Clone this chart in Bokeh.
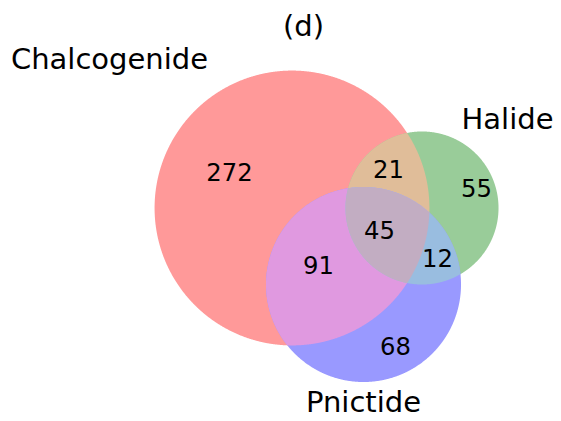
import numpy as np
from bokeh.plotting import figure
from bokeh.models import Range1d
from bokeh.core.properties import value
from bokeh.embed import file_html
from bokeh.resources import INLINE

# ---------------- data ----------------
title_text = "(d)"
set_names = ["Chalcogenide", "Halide", "Pnictide"]
region_keys = ["100", "010", "001", "110", "101", "011", "111"]
region_counts = [272, 55, 68, 21, 91, 12, 45]

# ---------------- layout / style ----------------
set_colors = [(1.0, 0.0, 0.0), (0.0, 0.5, 0.0), (0.0, 0.0, 1.0)]
fill_alpha = 0.4
px_per_sqrt = 6.635                     # circle area ~ set size
set_centers = [(291.5, 207.5), (421.5, 207.5), (363.0, 284.0)]
region_label_pos = {"100": (229, 171), "010": (476, 187), "001": (395, 345),
                    "110": (388, 168), "101": (318, 264), "011": (437, 257),
                    "111": (379, 229)}
set_label_pos = [(109, 58), (507, 118), (363, 401)]
title_pos = (303, 25)
FONT = "DejaVu Sans"
W, H = 561, 421

# ---------------- derived geometry ----------------
totals = [sum(c for k, c in zip(region_keys, region_counts) if k[i] == "1") for i in range(3)]
radii = [px_per_sqrt * np.sqrt(t) for t in totals]


def mix_color(idx):
    cols = np.array([set_colors[i] for i in idx])
    if len(idx) == 1:
        c = cols[0]
    elif len(idx) == 2:
        c = 0.7 * cols.sum(axis=0)
    else:
        c = 0.4 * cols.sum(axis=0)
    c = np.minimum(c, 1.0)
    c = (1 - fill_alpha) * 1.0 + fill_alpha * c
    return "#%02x%02x%02x" % tuple(int(round(v * 255)) for v in c)


def intersection_polygon(idx, n=1440):
    pts = []
    for i in idx:
        cx, cy = set_centers[i]
        t = np.linspace(0, 2 * np.pi, n, endpoint=False)
        xs = cx + radii[i] * np.cos(t)
        ys = cy + radii[i] * np.sin(t)
        mask = np.ones(n, dtype=bool)
        for j in idx:
            if j == i:
                continue
            dx = xs - set_centers[j][0]
            dy = ys - set_centers[j][1]
            mask &= (dx * dx + dy * dy) <= radii[j] ** 2 + 1e-6
        pts.append(np.column_stack([xs[mask], ys[mask]]))
    P = np.vstack(pts)
    c = P.mean(axis=0)
    ang = np.arctan2(P[:, 1] - c[1], P[:, 0] - c[0])
    P = P[np.argsort(ang)]
    return list(P[:, 0]), list(P[:, 1])


p = figure(width=W, height=H, x_range=Range1d(0, W), y_range=Range1d(H, 0),
           output_backend="svg", toolbar_location=None,
           x_axis_location=None, y_axis_location=None, min_border=0)
p.grid.visible = False
p.outline_line_color = None
p.background_fill_color = "white"

# paint order: single sets, then pairs, then the triple
order = [[0], [1], [2], [0, 1], [0, 2], [1, 2], [0, 1, 2]]
for idx in order:
    xs, ys = intersection_polygon(idx)
    p.patch(xs, ys, fill_color=mix_color(idx), line_color=None)

# region counts
for k, c in zip(region_keys, region_counts):
    x, y = region_label_pos[k]
    p.text(x=[x], y=[y], text=[str(c)], text_align="center", text_baseline="middle",
           text_font=value(FONT), text_font_size="24.3px", text_color="black")

# set names
for name, (x, y) in zip(set_names, set_label_pos):
    p.text(x=[x], y=[y], text=[name], text_align="center", text_baseline="middle",
           text_font=value(FONT), text_font_size="29px", text_color="black")

p.text(x=[title_pos[0]], y=[title_pos[1]], text=[title_text], text_align="center",
       text_baseline="middle", text_font=value(FONT), text_font_size="29px", text_color="black")

open("out.html", "w").write(file_html(p, INLINE))
